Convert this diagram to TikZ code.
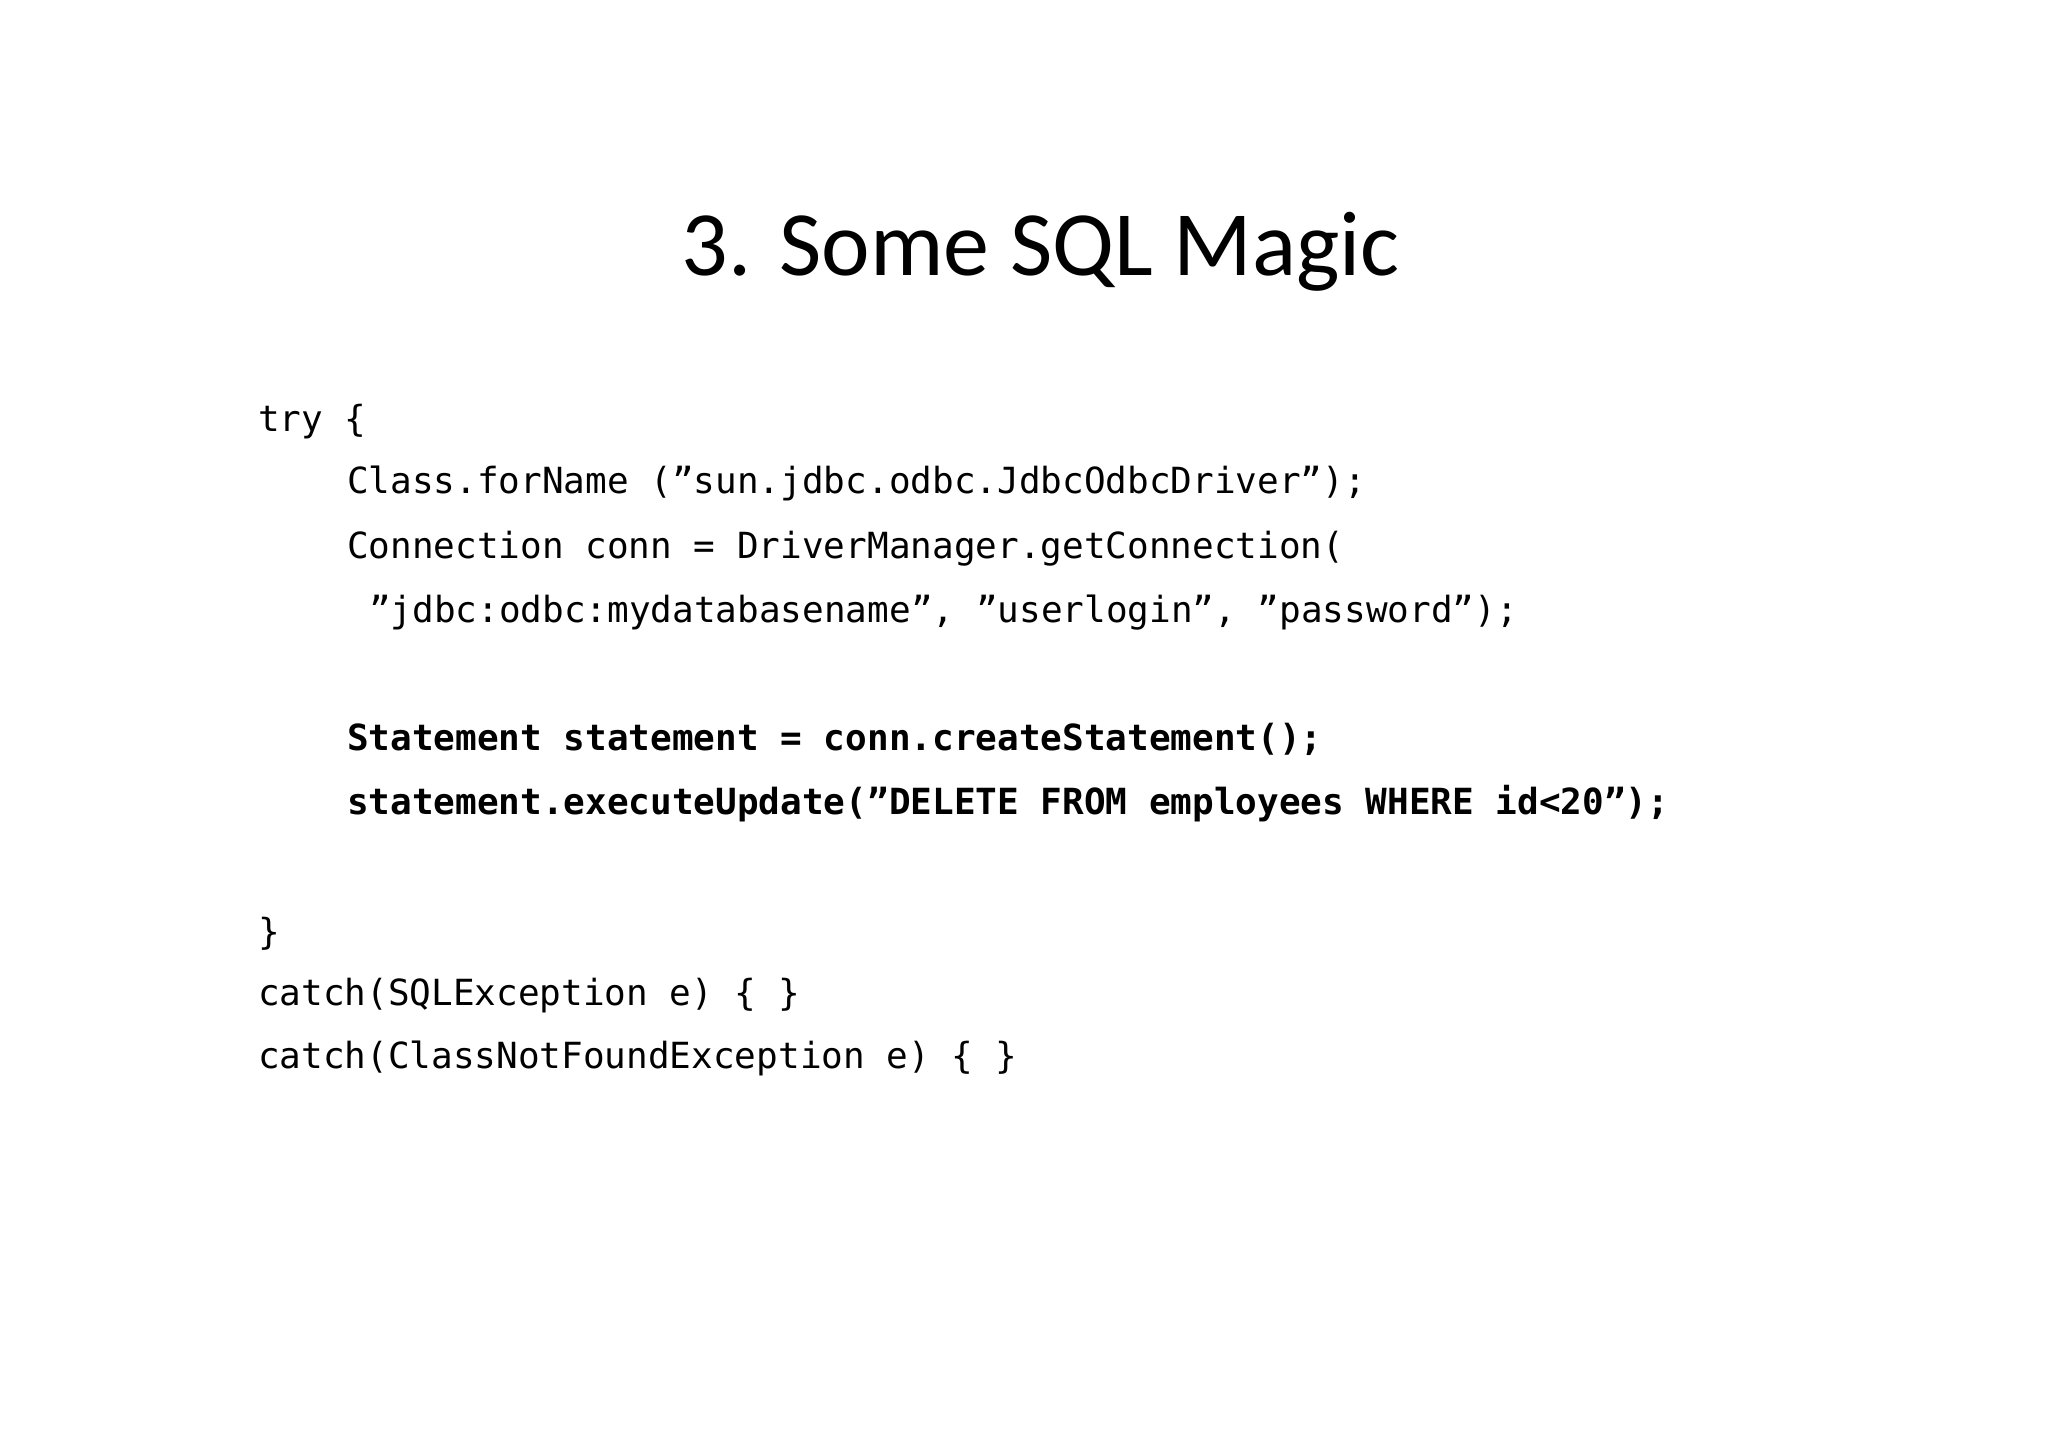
\documentclass[tikz,border=0pt]{standalone}
\usepackage{fontspec}
\setmainfont{Carlito}
\newfontfamily\codefont{DejaVu Sans Mono}
\begin{document}
\begin{tikzpicture}[x=1pt,y=-1pt,
  code/.style={anchor=base west,inner sep=0pt,font=\codefont\fontsize{36}{40}\selectfont},
  bcode/.style={code,font=\codefont\bfseries\fontsize{36}{40}\selectfont}]
\useasboundingbox[fill=white] (0,0) rectangle (2048,1447);
\node[anchor=base,inner sep=0pt,font=\fontsize{92}{100}\selectfont] (title) at (1041,276) {3. Some SQL Magic};
\node[code] (l1) at (258,431) {try \{};
\node[code] (l2) at (347,493) {Class.forName (”sun.jdbc.odbc.JdbcOdbcDriver”);};
\node[code] (l3) at (347,558) {Connection conn = DriverManager.getConnection(};
\node[code] (l4) at (369,622) {”jdbc:odbc:mydatabasename”, ”userlogin”, ”password”);};
\node[bcode] (l5) at (347,750) {Statement statement = conn.createStatement();};
\node[bcode] (l6) at (347,814) {statement.executeUpdate(”DELETE FROM employees WHERE id<20”);};
\node[code] (l7) at (258,944) {\}};
\node[code] (l8) at (258,1005) {catch(SQLException e) \{ \}};
\node[code] (l9) at (258,1068) {catch(ClassNotFoundException e) \{ \}};
\end{tikzpicture}
\end{document}
